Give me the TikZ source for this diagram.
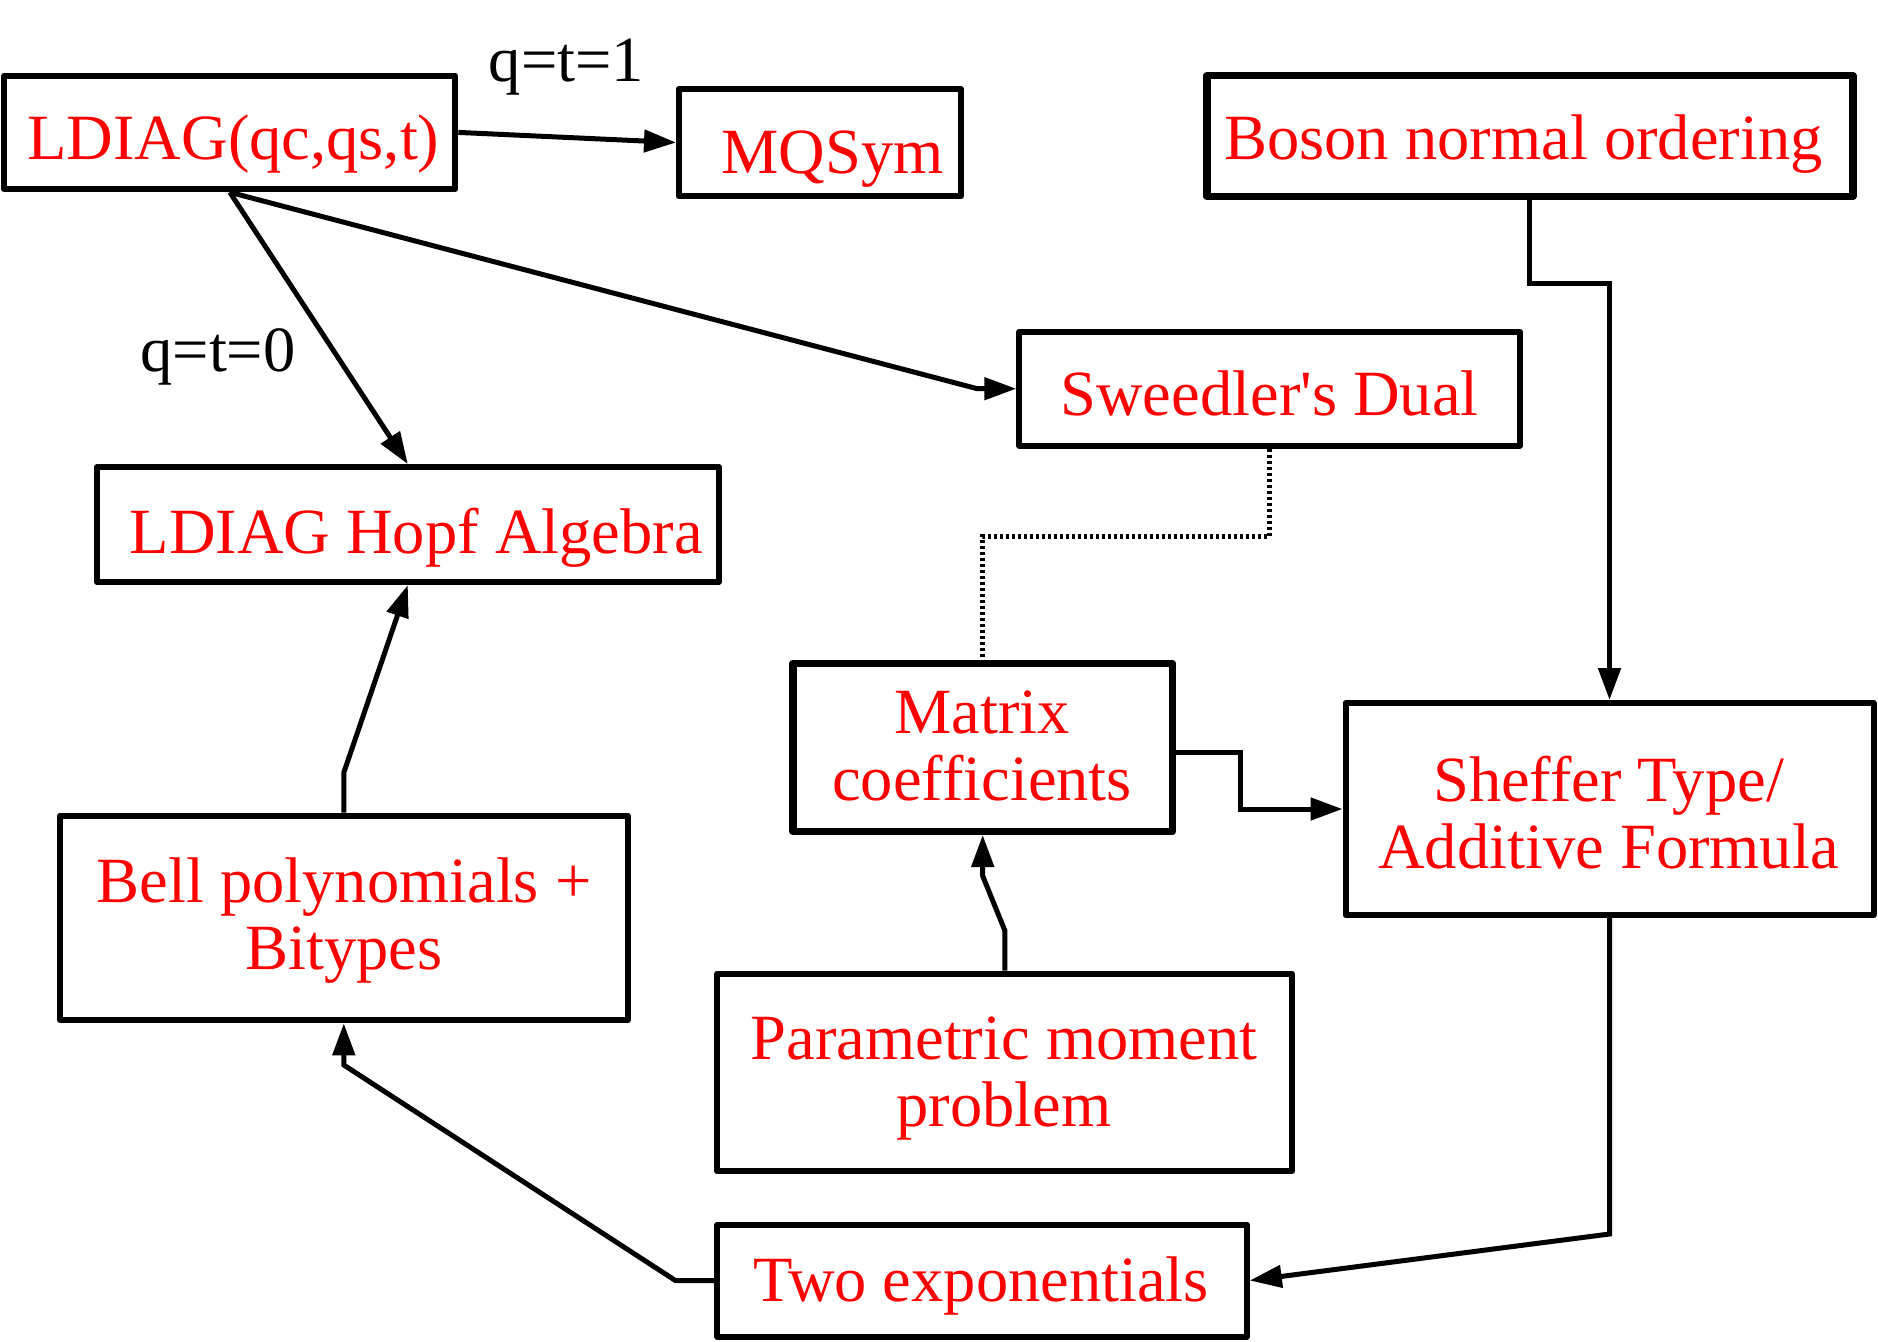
\documentclass[tikz,border=0pt]{standalone}
\usepackage{fontspec}
\setmainfont{Liberation Serif}
\usetikzlibrary{arrows.meta,calc}
\begin{document}
\begin{tikzpicture}[x=1pt,y=-1pt,
  box/.style={draw=black, line width=6pt, rectangle, inner sep=0pt, line join=round},
  thickbox/.style={box, line width=7.5pt},
  lbl/.style={text=red, font=\fontsize{64.5}{67}\selectfont, inner sep=0pt, align=center},
  qlbl/.style={text=black, font=\fontsize{64.5}{67}\selectfont, inner sep=0pt},
  conn/.style={draw=black, line width=5pt, line join=miter},
  arr/.style={conn, -{Triangle[length=32pt,width=22pt]}},
  dotline/.style={draw=black, line width=5pt, dash pattern=on 3.5pt off 2.5pt}
]
\useasboundingbox (0,0) rectangle (1878,1341);
% boxes
\node[box, minimum width=451pt, minimum height=113.7pt] (ldiag) at (229.8,132.4) {};
\node[box, minimum width=281.6pt, minimum height=107.8pt] (mqsym) at (819.8,142.5) {};
\node[thickbox, minimum width=645.8pt, minimum height=120.9pt] (boson) at (1529.9,136) {};
\node[box, minimum width=500.7pt, minimum height=113.7pt] (sweedler) at (1269.6,388.7) {};
\node[box, minimum width=621.6pt, minimum height=115pt] (hopf) at (407.8,524.6) {};
\node[thickbox, minimum width=379.6pt, minimum height=167.7pt] (matrix) at (982.7,747.4) {};
\node[box, minimum width=528pt, minimum height=212pt] (sheffer) at (1609.5,809) {};
\node[box, minimum width=567.7pt, minimum height=204.8pt] (bell) at (343.8,918) {};
\node[box, minimum width=574.9pt, minimum height=197.6pt] (param) at (1004.9,1072.5) {};
\node[box, minimum width=529.4pt, minimum height=112pt] (twoexp) at (982.1,1280.5) {};
% texts
\node[lbl, anchor=base] (ldiagT) at (233.5,159.3) {LDIAG(qc,qs,t)};
\node[lbl, anchor=base] (mqsymT) at (832.4,173.7) {MQSym};
\node[lbl, anchor=base] (bosonT) at (1523.5,159.3) {Boson normal ordering};
\node[lbl, anchor=base] (sweedT) at (1269.6,415.6) {Sweedler\textquotesingle s Dual};
\node[lbl, anchor=base] (hopfT) at (416.2,553.3) {LDIAG Hopf Algebra};
\node[lbl, anchor=base] (twoT) at (981,1301.9) {Two exponentials};
\node[lbl] (matrixT) at (982,745.5) {Matrix\\coefficients};
\node[lbl] (shefferT) at (1608.5,812.5) {Sheffer Type/\\Additive Formula};
\node[lbl] (bellT) at (344,920.5) {Bell polynomials +\\Bitypes};
\node[lbl] (paramT) at (1004,1078) {Parametric moment\\problem};
\node[qlbl, anchor=base] (q1) at (566.5,81.4) {q=t=1};
\node[qlbl, anchor=base] (q0) at (218,371.3) {q=t=0};
% connectors
\draw[arr] (ldiag.east) -- (mqsym.west);
\draw[arr] (ldiag.south) -- (hopf.north);
\draw[arr] (ldiag.south) -- ([xshift=-39pt]sweedler.west) -- (sweedler.west);
\draw[dotline] (sweedler.south) -- ++(0,87.5) -| (matrix.north);
\draw[arr] (boson.south) -- ++(0,83) -| (sheffer.north);
\draw[arr] ([yshift=-4.6pt]matrix.east) -- ++(64.5,0) |- (sheffer.west);
\draw[arr] (param.north) -- ++(0,-40) -- ([yshift=-41pt]matrix.south) -- (matrix.south);
\draw[arr] (sheffer.south) -- ++(0,316) -- (twoexp.east);
\draw[arr] (twoexp.west) -- ++(-39,0) -- ([yshift=-41.6pt]bell.south) -- (bell.south);
\draw[arr] (bell.north) -- ++(0,-40) -- (hopf.south);
\end{tikzpicture}
\end{document}
